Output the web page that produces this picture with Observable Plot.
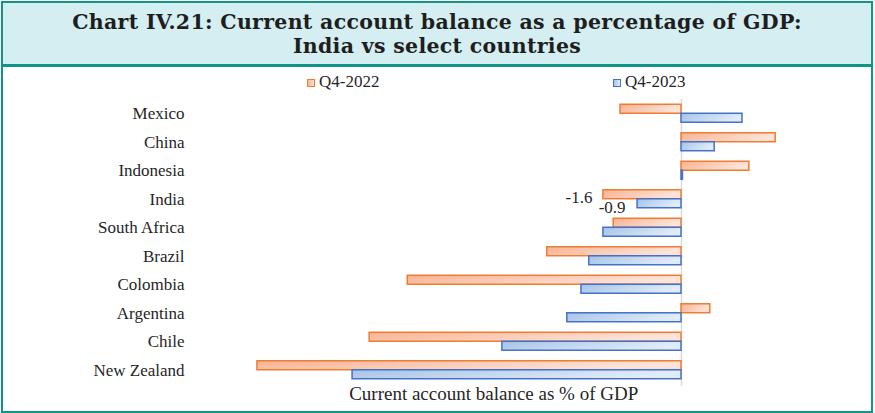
<!DOCTYPE html>
<html>
<head>
<meta charset="utf-8">
<script src="https://cdn.jsdelivr.net/npm/d3@7"></script>
<script src="https://cdn.jsdelivr.net/npm/@observablehq/plot@0.6"></script>
<style>
  html, body { margin: 0; padding: 0; background: #fff; }
  #frame { position: absolute; left: 1px; top: 1px; width: 872px; height: 412px; box-sizing: border-box;
           border: 2px solid #0e9586; background: #fff; overflow: hidden; }
  #title { position: absolute; left: 0; top: 0; width: 868px; height: 61px; background: #d4eef1;
           border-bottom: 3px solid #0e9586; box-sizing: content-box;
           font-family: "DejaVu Serif", serif; font-weight: bold; font-size: 20.5px; letter-spacing: 0.3px;
           color: #1e1e1e; text-align: center; line-height: 24px; }
  #title .inner { position: absolute; left: 0; right: 0; top: 7px; white-space: nowrap; }
  #legend { position: absolute; left: 0; top: 64px; width: 868px; height: 25px;
            font-family: "Liberation Serif", "Times New Roman", serif; font-size: 17px; color: #262626; }
  .item { position: absolute; top: 5px; height: 20px; line-height: 20px; white-space: nowrap; }
  .sw { display: inline-block; width: 6px; height: 6px; vertical-align: 0px; margin-right: 4px; }
  #chart { position: absolute; left: 0; top: 89px; }
</style>
</head>
<body>
<div id="frame">
  <div id="title"><div class="inner">Chart IV.21: Current account balance as a percentage of GDP:<br>India vs select countries</div></div>
  <div id="legend"></div>
  <div id="chart"></div>
</div>
<script>
const countries = ["Mexico", "China", "Indonesia", "India", "South Africa", "Brazil", "Colombia", "Argentina", "Chile", "New Zealand"];
const q2022 = [-1.25, 1.93, 1.39, -1.6, -1.39, -2.75, -5.61, 0.59, -6.39, -8.69];
const q2023 = [1.25, 0.68, 0.03, -0.9, -1.6, -1.89, -2.05, -2.34, -3.67, -6.74];
const seriesNames = ["Q4-2022", "Q4-2023"];
const labelled = ["India"];
const axisTitle = "Current account balance as % of GDP";

const data2022 = countries.map((c, i) => ({country: c, value: q2022[i]}));
const data2023 = countries.map((c, i) => ({country: c, value: q2023[i]}));
const lab2022 = data2022.filter(d => labelled.includes(d.country));
const lab2023 = data2023.filter(d => labelled.includes(d.country));

const orange = "#ed7d31", blue = "#4472c4";
const gradOrange = ["#f8b393", "#fde3d9"];
const gradBlue = ["#a6c3e8", "#e1ecf8"];

// legend
const legend = document.getElementById("legend");
[[seriesNames[0], orange, gradOrange, 304], [seriesNames[1], blue, gradBlue, 610]].forEach(([name, stroke, g, left]) => {
  const it = document.createElement("div");
  it.className = "item";
  it.style.left = left + "px";
  it.innerHTML = `<span class="sw" style="border:1px solid ${stroke};background:linear-gradient(90deg, ${g[0]}, ${g[1]})"></span>${name}`;
  legend.appendChild(it);
});

const W = 868, H = 318;
const defs = () => {
  const g = d3.create("svg:defs");
  g.html(`
    <linearGradient id="gO" x1="0" y1="0" x2="1" y2="0.3">
      <stop offset="0" stop-color="${gradOrange[0]}"/><stop offset="1" stop-color="${gradOrange[1]}"/>
    </linearGradient>
    <linearGradient id="gB" x1="0" y1="0" x2="1" y2="0.3">
      <stop offset="0" stop-color="${gradBlue[0]}"/><stop offset="1" stop-color="${gradBlue[1]}"/>
    </linearGradient>`);
  return g.node();
};

const font = "Liberation Serif, Times New Roman, serif";
const chart = Plot.plot({
  width: W,
  height: H,
  marginLeft: 238.8,
  marginRight: 92.4,
  marginTop: 7,
  marginBottom: 26,
  style: {fontFamily: font, fontSize: "17px", color: "#262626", background: "transparent"},
  x: {domain: [-9, 2], axis: null},
  y: {domain: countries, paddingInner: 0.37, paddingOuter: 0.185, round: false, label: null},
  marks: [
    defs,
    Plot.ruleX([0], {stroke: "#d9d9d9", strokeWidth: 1.5, insetBottom: -2}),
    Plot.barX(data2022, {x: "value", y: "country", fill: "url(#gO)", stroke: orange, strokeWidth: 1.5, insetBottom: 9}),
    Plot.barX(data2023, {x: "value", y: "country", fill: "url(#gB)", stroke: blue, strokeWidth: 1.5, insetTop: 9}),
    Plot.text(lab2022, {x: "value", y: "country", text: d => d.value.toFixed(1), textAnchor: "end", dx: -11, dy: -2, fontSize: 17, fill: "#262626"}),
    Plot.text(lab2023, {x: "value", y: "country", text: d => d.value.toFixed(1), textAnchor: "end", dx: -12, dy: 8, fontSize: 17, fill: "#262626"}),
    Plot.axisY({tickSize: 0, tickPadding: 57.8, fontSize: 17, label: null, fill: "#262626"}),
    Plot.text([axisTitle], {frameAnchor: "bottom", lineAnchor: "middle", dx: -17, dy: 9, fontSize: 19, fill: "#262626"})
  ]
});
document.getElementById("chart").appendChild(chart);
</script>
</body>
</html>
